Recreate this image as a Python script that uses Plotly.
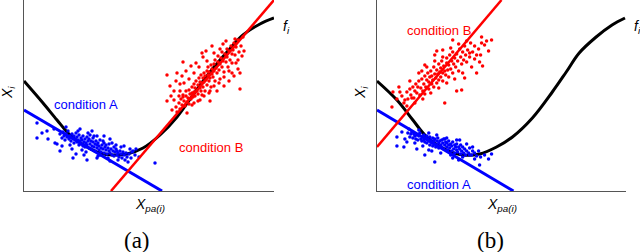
import plotly.graph_objects as go

# ---------------- data (panel a) ----------------
curve_a_x = [0, 19, 33, 46, 63, 76, 89, 103, 119, 136, 153, 169, 186, 203, 219, 236, 250]
curve_a_y = [110, 88, 71, 56, 44, 38, 36, 37, 43, 56, 74, 96, 119, 139, 156, 167, 173]

lineA_a_x = [0, 138]
lineA_a_y = [81, 0]
lineB_a_x = [87, 250]
lineB_a_y = [0, 191]

cloudA_a = [(13,68),(13,53),(18,58),(23,60),(24,52),(31,48),(36,40),(49,33),(64,58),(73,55),(88,48),(93,40),
            (109,40),(111,36),(131,28),(63,31),(73,33),(86,30),
            (36,57),(38,53),(39,59),(40,55),(41,51),(42,57),(43,54),(44,60),(45,52),(46,55),(47,50),(48,57),
            (49,53),(50,48),(50,55),(51,52),(52,58),(53,49),(53,54),(54,51),(55,46),(55,56),(56,50),(57,53),
            (57,47),(58,51),(59,55),(59,45),(60,49),(61,52),(61,44),(62,48),(63,54),(63,46),(64,50),(65,43),
            (65,52),(66,47),(67,50),(67,42),(68,45),(69,49),(69,53),(70,44),(71,47),(71,40),(72,50),(73,43),
            (73,46),(74,48),(75,41),(75,45),(76,51),(77,43),(77,39),(78,46),(79,42),(80,48),(80,38),(81,44),
            (82,41),(82,46),(83,37),(84,43),(85,40),(85,47),(86,38),(87,42),(88,36),(89,40),(90,44),(90,35),
            (91,39),(92,42),(93,36),(94,38),(95,34),(96,40),(97,37),(98,33),(99,39),(100,36),(102,38),(103,34),
            (105,37),(107,33),(108,39),(106,42),(101,31),(97,44),(58,41),(66,56),(46,46),(54,60),(76,36),(84,33),
            (62,39),(70,55),(79,50),(92,46),
            (30,62),(33,47),(38,45),(42,64),(48,42),(52,37),(56,62),(60,36),(68,60),(74,35),(80,55),(86,52),
            (94,31),(100,45),(104,29),(112,42),(115,34)]

cloudB_a = [(143,116),(159,129),(199,147),(216,102),(143,90),(148,81),(186,90),(214,122),(211,152),(179,134),
            (156,107),(159,94),(176,91),(214,131),(208,137),
            (152,84),(153,79),(155,88),(156,82),(157,92),(158,86),(159,96),(160,90),(161,85),(162,95),(162,100),
            (163,89),(164,93),(165,101),(165,87),(166,97),(167,92),(168,104),(168,98),(169,94),(170,107),(170,99),
            (171,95),(171,103),(172,110),(173,100),(174,106),(174,97),(175,113),(176,103),(176,109),(177,116),
            (177,100),(178,108),(179,113),(179,104),(180,118),(180,109),(181,100),(181,115),(182,111),(183,120),
            (183,106),(184,116),(184,124),(185,110),(185,119),(186,113),(187,126),(187,104),(188,117),(188,122),
            (189,114),(190,127),(190,120),(191,110),(191,131),(192,123),(193,118),(194,129),(194,135),(195,121),
            (196,127),(196,112),(197,133),(198,124),(198,139),(199,130),(200,119),(201,137),(202,129),(203,142),
            (203,134),(204,124),(205,140),(206,131),(207,145),(208,128),(209,141),(210,148),(211,136),(212,144),
            (214,151),(215,139),(217,145),(219,154),(165,112),(170,118),(175,124),(160,108),(185,98),(195,108),
            (200,114),(205,120),(178,96),(168,86),(156,100),(150,91),(190,138),(183,130),
            (150,100),(152,110),(155,95),(158,115),(162,120),(163,78),(167,125),(170,88),(172,128),(174,90),
            (178,138),(180,95),(182,140),(186,100),(188,145),(190,105),(193,100),(196,142),(200,105),(202,150),
            (205,110),(208,118),(210,115),(212,128),(216,118),(218,135),(220,140),(147,95),(146,105),(153,118)]

# ---------------- data (panel b) ----------------
curve_b_x = [0, 20, 36, 50, 70, 86, 103, 120, 136, 156, 176, 190, 203, 220, 236, 249]
curve_b_y = [110, 91, 71, 54, 41, 36, 37, 44, 54, 73, 99, 119, 138, 154, 166, 173]

lineA_b_x = [0, 137]
lineA_b_y = [81, 0]
lineB_b_x = [0, 125]
lineB_b_y = [44, 191]

cloudB_b = [(16,99),(23,99),(28,91),(68,88),(85,101),(88,113),(100,118),(103,129),(105,148),(115,151),(76,151),
            (105,154),(35,93),(93,138),(66,141),(58,136),(48,126),(15,84),
            (25,95),(27,88),(30,99),(31,92),(33,102),(34,96),(36,104),(37,93),(38,100),(39,107),(40,98),(41,104),
            (42,110),(43,96),(44,103),(45,112),(46,100),(47,107),(48,115),(48,97),(49,104),(50,111),(51,118),
            (52,102),(52,109),(53,114),(54,120),(55,107),(55,115),(56,111),(57,124),(57,104),(58,117),(59,113),
            (60,121),(60,108),(61,117),(62,127),(62,111),(63,119),(64,123),(64,114),(65,130),(66,118),(66,110),
            (67,125),(68,120),(69,116),(70,128),(70,133),(71,121),(72,114),(72,126),(73,136),(74,122),(75,130),
            (76,118),(76,139),(77,127),(78,133),(79,124),(80,137),(81,130),(82,120),(83,142),(84,134),(85,127),
            (86,139),(87,131),(88,145),(89,136),(90,129),(91,141),(93,134),(94,148),(96,139),(98,145),(100,136),
            (102,142),(108,146),(110,150),
            (20,92),(22,104),(30,85),(33,110),(38,88),(42,118),(46,92),(50,124),(54,98),(58,130),(62,103),
            (66,134),(70,108),(74,143),(78,112),(82,147),(86,118),(90,150),(95,124),(98,132),(104,136),(106,125),
            (112,140),(60,140),(45,120),(80,100)]

cloudA_b = [(20,54),(20,45),(27,44),(30,49),(25,59),(48,36),(58,29),(82,31),(98,32),(103,26),(115,37),(83,51),
            (35,59),(68,52),(52,41),(93,36),(112,32),
            (31,58),(33,54),(34,57),(36,53),(37,57),(38,55),(39,52),(40,56),(41,51),(42,55),(43,58),(44,52),
            (45,50),(46,54),(47,51),(47,56),(48,49),(49,53),(50,55),(50,48),(51,52),(52,50),(53,54),(53,46),
            (54,51),(55,48),(56,53),(56,45),(57,50),(58,47),(58,52),(59,44),(60,50),(60,46),(61,53),(62,48),
            (62,43),(63,50),(64,46),(65,51),(65,44),(66,48),(67,42),(67,52),(68,46),(69,49),(70,44),(70,48),
            (71,41),(72,46),(72,50),(73,43),(74,47),(75,40),(75,45),(76,49),(77,42),(78,46),(78,38),(79,44),
            (80,41),(80,47),(81,39),(82,44),(83,42),(84,37),(84,46),(85,40),(86,44),(87,38),(88,42),(89,36),
            (90,40),(92,38),(93,43),(95,36),(96,40),(98,38),(100,35),(104,34),
            (28,52),(32,62),(38,48),(42,61),(46,45),(52,58),(55,40),(60,56),(64,38),(70,53),(74,36),(80,51),
            (86,34),(90,47),(96,44),(102,40),(108,36),(40,42),(76,33)]

x_range = [0, 250]
y_range = [0, 191]

# ---------------- figure ----------------
W, H = 640, 252
BLUE, RED, BLACK = "#0000ff", "#ff0000", "#000000"

fig = go.Figure()

def add_panel(xa, ya, cx, cy, cloudA, cloudB, lax, lay, lbx, lby):
    fig.add_trace(go.Scatter(x=cx, y=cy, mode="lines", line=dict(color=BLACK, width=3, shape="spline"),
                             xaxis=xa, yaxis=ya, hoverinfo="skip"))
    fig.add_trace(go.Scatter(x=[p[0] for p in cloudA], y=[p[1] for p in cloudA], mode="markers",
                             marker=dict(color=BLUE, size=3.5, line=dict(width=0)), xaxis=xa, yaxis=ya))
    fig.add_trace(go.Scatter(x=[p[0] for p in cloudB], y=[p[1] for p in cloudB], mode="markers",
                             marker=dict(color=RED, size=3.5, line=dict(width=0)), xaxis=xa, yaxis=ya))
    fig.add_trace(go.Scatter(x=lax, y=lay, mode="lines", line=dict(color=BLUE, width=3),
                             xaxis=xa, yaxis=ya))
    fig.add_trace(go.Scatter(x=lbx, y=lby, mode="lines", line=dict(color=RED, width=2.5),
                             xaxis=xa, yaxis=ya))

add_panel("x", "y", curve_a_x, curve_a_y, cloudA_a, cloudB_a, lineA_a_x, lineA_a_y, lineB_a_x, lineB_a_y)
add_panel("x2", "y2", curve_b_x, curve_b_y, cloudA_b, cloudB_b, lineA_b_x, lineA_b_y, lineB_b_x, lineB_b_y)

ax_common = dict(showline=True, linecolor="#555555", linewidth=1, showticklabels=False,
                 showgrid=False, zeroline=False, ticks="", fixedrange=True)

ydom = [(H - 191) / H, 1.0]
fig.update_layout(
    width=W, height=H, margin=dict(l=0, r=0, t=0, b=0),
    paper_bgcolor="white", plot_bgcolor="white", showlegend=False,
    xaxis=dict(domain=[24 / W, 274 / W], range=x_range, anchor="y", **ax_common),
    yaxis=dict(domain=ydom, range=y_range, anchor="x", **ax_common),
    xaxis2=dict(domain=[377 / W, 626 / W], range=x_range, anchor="y2", **ax_common),
    yaxis2=dict(domain=ydom, range=y_range, anchor="x2", **ax_common),
)

SANS = "Liberation Sans, Arial, sans-serif"
SERIF = "Liberation Serif, DejaVu Serif, serif"

def ann(text, px, py, size=13, color="black", font=SANS, angle=0, xanchor="center"):
    fig.add_annotation(text=text, x=px / W, y=1 - py / H, xref="paper", yref="paper",
                       showarrow=False, xanchor=xanchor, yanchor="middle", textangle=angle,
                       font=dict(family=font, size=size, color=color))

# panel a
ann("condition A", 86, 104, color=BLUE)
ann("condition B", 211, 147, color=RED)
ann("<i>f<sub>i</sub></i>", 286, 27, size=14)
ann("<i>X<sub>i</sub></i>", 8, 93, size=14, angle=-90)
ann("<i>X<sub>pa(i)</sub></i>", 150, 205, size=14)
ann("(a)", 137, 240, size=23, font=SERIF)
# panel b
ann("condition B", 439, 30, color=RED)
ann("condition A", 439, 184, color=BLUE)
ann("<i>f<sub>i</sub></i>", 632, 27, size=14, xanchor="left")
ann("<i>X<sub>i</sub></i>", 361, 93, size=14, angle=-90)
ann("<i>X<sub>pa(i)</sub></i>", 502, 205, size=14)
ann("(b)", 490, 240, size=23, font=SERIF)

fig.write_html("out.html", config={"displayModeBar": False},
               post_script="document.body.style.margin='0px';document.body.style.overflow='hidden';")
